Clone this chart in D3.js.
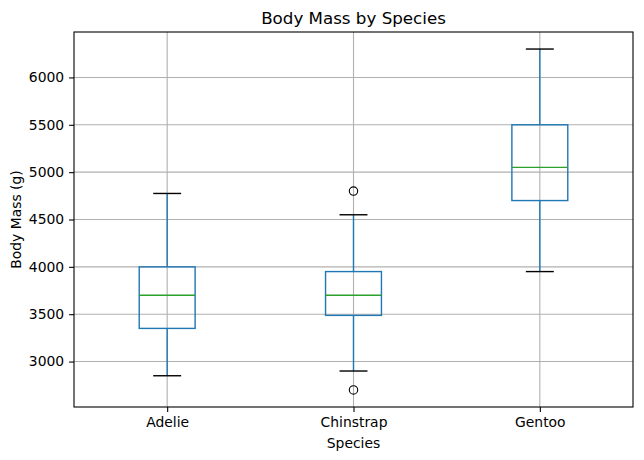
<!DOCTYPE html>
<html>
<head>
<meta charset="utf-8">
<script src="https://cdn.jsdelivr.net/npm/d3@7"></script>
<style>
	body { margin: 0; background: #fff; }
	svg { display: block; font-family: "DejaVu Sans", sans-serif; }
</style>
</head>
<body>
<svg id="chart" width="644" height="460"></svg>
<script>
// values
let species = ["Adelie", "Chinstrap", "Gentoo"];
let whiskerLow = [2850, 2900, 3950];
let q1 = [3350, 3487.5, 4700];
let median = [3700, 3700, 5050];
let q3 = [4000, 3950, 5500];
let whiskerHigh = [4775, 4550, 6300];
let outliers = [[], [2700, 4800], []];
let yTicks = [3000, 3500, 4000, 4500, 5000, 5500, 6000];

let margin = { left: 74, right: 11, top: 32, bottom: 53 };
let width = 644, height = 460;

var svg = d3.select("#chart");

let boxes = species.map(function (s, i) {
	return { name: s, pos: i + 1, lo: whiskerLow[i], q1: q1[i], med: median[i], q3: q3[i], hi: whiskerHigh[i], fliers: outliers[i] };
});

let x = d3.scaleLinear().domain([0.5, 3.5]).range([margin.left, width - margin.right]);
let y = d3.scaleLinear().domain([2520, 6480]).range([height - margin.bottom, margin.top]);

let boxW = 0.3, capW = 0.15;

// grid
let grid = svg.append("g").attr("stroke", "#b0b0b0").attr("stroke-width", 1.1);
grid.selectAll(".gy").data(yTicks).enter().append("line")
	.attr("x1", x(0.5)).attr("x2", x(3.5))
	.attr("y1", d => y(d)).attr("y2", d => y(d));
grid.selectAll(".gx").data(boxes).enter().append("line")
	.attr("x1", d => x(d.pos)).attr("x2", d => x(d.pos))
	.attr("y1", y.range()[0]).attr("y2", y.range()[1]);

// boxes
let g = svg.selectAll(".box").data(boxes).enter().append("g").attr("class", "box");

g.append("line") // lower whisker
	.attr("x1", d => x(d.pos)).attr("x2", d => x(d.pos))
	.attr("y1", d => y(d.q1)).attr("y2", d => y(d.lo))
	.attr("stroke", "#1f77b4").attr("stroke-width", 1.4);
g.append("line") // upper whisker
	.attr("x1", d => x(d.pos)).attr("x2", d => x(d.pos))
	.attr("y1", d => y(d.q3)).attr("y2", d => y(d.hi))
	.attr("stroke", "#1f77b4").attr("stroke-width", 1.4);
g.append("rect")
	.attr("x", d => x(d.pos - boxW / 2))
	.attr("width", d => x(d.pos + boxW / 2) - x(d.pos - boxW / 2))
	.attr("y", d => y(d.q3))
	.attr("height", d => y(d.q1) - y(d.q3))
	.attr("fill", "none").attr("stroke", "#1f77b4").attr("stroke-width", 1.4);
g.append("line")
	.attr("x1", d => x(d.pos - boxW / 2)).attr("x2", d => x(d.pos + boxW / 2))
	.attr("y1", d => y(d.med)).attr("y2", d => y(d.med))
	.attr("stroke", "#2ca02c").attr("stroke-width", 1.4);
g.selectAll(".cap").data(d => [d.lo, d.hi].map(v => ({ pos: d.pos, v: v }))).enter().append("line")
	.attr("x1", d => x(d.pos - capW / 2)).attr("x2", d => x(d.pos + capW / 2))
	.attr("y1", d => y(d.v)).attr("y2", d => y(d.v))
	.attr("stroke", "black").attr("stroke-width", 1.4);
g.selectAll(".flier").data(d => d.fliers.map(v => ({ pos: d.pos, v: v }))).enter().append("circle")
	.attr("cx", d => x(d.pos)).attr("cy", d => y(d.v)).attr("r", 4.2)
	.attr("fill", "none").attr("stroke", "black").attr("stroke-width", 1.1);

// axes
let yAxis = d3.axisLeft(y).tickValues(yTicks).tickSize(4.9).tickPadding(4.9).tickFormat(d3.format("d"));
let xAxis = d3.axisBottom(x).tickValues(boxes.map(d => d.pos)).tickSize(4.9).tickPadding(4.9)
	.tickFormat((d, i) => species[i]);

let ya = svg.append("g").attr("transform", `translate(${margin.left},0)`).call(yAxis);
let xa = svg.append("g").attr("transform", `translate(0,${height - margin.bottom})`).call(xAxis);
for (let a of [ya, xa]) {
	a.select(".domain").remove();
	a.selectAll(".tick line").attr("stroke", "black").attr("stroke-width", 1.1);
	a.selectAll(".tick text").attr("font-size", 13.9).attr("fill", "black").attr("font-family", "DejaVu Sans");
}

// frame
svg.append("rect")
	.attr("x", margin.left).attr("y", margin.top)
	.attr("width", width - margin.right - margin.left)
	.attr("height", height - margin.bottom - margin.top)
	.attr("fill", "none").attr("stroke", "black").attr("stroke-width", 1.1);

// labels
svg.append("text")
	.attr("x", (margin.left + width - margin.right) / 2).attr("y", 24)
	.attr("text-anchor", "middle").attr("font-size", 16.7)
	.text("Body Mass by Species");
svg.append("text")
	.attr("x", (margin.left + width - margin.right) / 2).attr("y", 448)
	.attr("text-anchor", "middle").attr("font-size", 13.9)
	.text("Species");
svg.append("text")
	.attr("transform", `translate(21,${(margin.top + height - margin.bottom) / 2}) rotate(-90)`)
	.attr("text-anchor", "middle").attr("font-size", 13.9)
	.text("Body Mass (g)");
</script>
</body>
</html>
